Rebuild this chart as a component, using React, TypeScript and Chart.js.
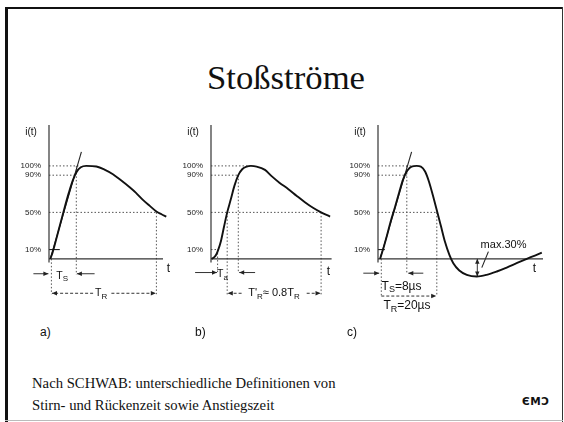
import React, { useEffect, useRef } from 'react';
import { Chart, registerables } from 'chart.js';
Chart.register(...registerables);

// ---------- shared ----------
const LEVELS = [10, 50, 90, 100];
const Y_MIN = -55;
const Y_MAX = 144;

// ---------- panel a ----------
const A_T = [0.44, 1.2, 2.4, 3.8, 5.2, 6.6, 8, 9.2, 10.6, 12.4, 15.8, 18.5, 21.3, 24, 26.9, 29, 31.3, 33.6, 35.8, 37.5, 39.1];
const A_I = [0, 7, 21, 38, 55, 71, 85, 93.5, 98.5, 100, 99.3, 96, 91, 84.5, 77, 71, 63.5, 57, 51, 48, 45.5];
const A_TAN_T = [0.44, 10.8];
const A_TAN_I = [0, 115];
const A_DOTTED = [[0, 100, 10.2, 100], [0, 90, 8.6, 90], [0, 50, 36.3, 50], [9.1, 100, 9.1, -17], [35.8, 50, 35.8, -38], [0.8, 0, 0.8, -38]];
const A_SOLID = [[0, 10, 3.6, 10]];
const A_ARROWS = [[-5.2, -16, -0.2, -16], [15.2, -16, 9.3, -16]];
const A_DASH_ARROWS = [[14.7, -37, 1.0, -37], [20.8, -37, 35.6, -37]];

// ---------- panel b ----------
const B_T = [0.2, 1.1, 1.8, 2.4, 3.3, 4.3, 5.4, 6.6, 7.8, 9.1, 10.4, 11.9, 13.3, 15.2, 18, 20.2, 22.8, 25.8, 28.5, 31.3, 34, 36.7, 39.7];
const B_I = [0, 1.8, 5, 9.7, 19, 34, 50, 64, 78.5, 90, 96.4, 99.3, 100, 99.3, 95.7, 89, 82, 75, 68, 61, 55, 50, 45.5];
const B_DOTTED = [[0, 100, 13, 100], [0, 90, 9.1, 90], [0, 50, 36.9, 50], [0, 10, 2.4, 10], [2.2, 10, 2.2, -15], [5.4, 50, 5.4, -39], [9.1, 90, 9.1, -15], [36.7, 50, 36.7, -39]];
const B_ARROWS = [[-5.3, -14.7, 2.0, -14.7], [14.7, -14.7, 9.4, -14.7]];
const B_DASH_ARROWS = [[10.2, -37, 5.6, -37], [31.9, -37, 36.5, -37]];

// ---------- panel c ----------
const C_T = [0.7, 1.1, 1.8, 2.9, 4.2, 5.7, 7.1, 8.4, 9.8, 11.2, 12.9, 14.3, 15.7, 17, 18.4, 19.8, 21, 22.3, 23.8, 25.1, 27.1, 29.6, 32.9, 36.2, 39.6, 42.9, 46.2, 49.6, 52.3, 54.6];
const C_I = [0, 4.3, 11.5, 24, 40, 56, 72, 85.7, 95, 99.3, 100, 99.3, 94, 83, 67, 50, 35, 18.6, 4.3, -4.7, -12.5, -17.2, -19, -17.2, -13.6, -9.3, -4.7, 0, 3.6, 6.8];
const C_TAN_T = [0.7, 11.2];
const C_TAN_I = [0, 115];
const C_DOTTED = [[0, 100, 11.2, 100], [0, 90, 9.6, 90], [0, 50, 19.8, 50], [9.6, 100, 9.6, -15.4], [19.6, 50, 19.6, -40], [1.1, 0, 1.1, -40]];
const C_SOLID = [[0, 10, 2.3, 10], [34.6, -9.4, 36.8, 7.8]];
const C_ARROWS = [[-4.9, -15.4, 0.4, -15.4], [15.1, -15.4, 10.1, -15.4]];
const C_DASH_ARROWS = [[1.1, -40, 19.4, -40]];
const C_DOUBLE = [[33.1, 0, 33.1, -19]];

type Label = { t: number; i: number; text: string; size: number; align: 'left' | 'center' };
interface Panel {
  key: string;
  t: number[]; i: number[];
  tanT: number[]; tanI: number[];
  xMax: number; axisEnd: number;
  dotted: number[][]; solid: number[][]; arrows: number[][]; dashArrows: number[][]; doubles: number[][];
  labels: Label[];
  left: number; width: number;
}

const PANELS: Panel[] = [
  {
    key: 'a', t: A_T, i: A_I, tanT: A_TAN_T, tanI: A_TAN_I, xMax: 42, axisEnd: 38,
    dotted: A_DOTTED, solid: A_SOLID, arrows: A_ARROWS, dashArrows: A_DASH_ARROWS, doubles: [],
    labels: [
      { t: 4.4, i: -18.5, text: 'T_S', size: 10.5, align: 'center' },
      { t: 17.4, i: -37, text: 'T_R', size: 10.5, align: 'center' },
      { t: 39.8, i: -10.2, text: 't', size: 12, align: 'center' },
    ],
    left: 10, width: 175,
  },
  {
    key: 'b', t: B_T, i: B_I, tanT: [], tanI: [], xMax: 42, axisEnd: 40.2,
    dotted: B_DOTTED, solid: [], arrows: B_ARROWS, dashArrows: B_DASH_ARROWS, doubles: [],
    labels: [
      { t: 3.8, i: -16.5, text: 'T_a', size: 10.5, align: 'center' },
      { t: 21, i: -37, text: "T'_R≈ 0.8T_R", size: 11, align: 'center' },
      { t: 39.1, i: -14, text: 't', size: 12, align: 'center' },
    ],
    left: 172, width: 173,
  },
  {
    key: 'c', t: C_T, i: C_I, tanT: C_TAN_T, tanI: C_TAN_I, xMax: 57, axisEnd: 55,
    dotted: C_DOTTED, solid: C_SOLID, arrows: C_ARROWS, dashArrows: C_DASH_ARROWS, doubles: C_DOUBLE,
    labels: [
      { t: 1.2, i: -29.5, text: 'T_S=8µs', size: 12, align: 'left' },
      { t: 1.8, i: -50.2, text: 'T_R=20µs', size: 12, align: 'left' },
      { t: 34.2, i: 15, text: 'max.30%', size: 11, align: 'left' },
      { t: 52.1, i: -11, text: 't', size: 12, align: 'center' },
    ],
    left: 339, width: 219,
  },
];

const SANS = '"Liberation Sans", Arial, Helvetica, sans-serif';

function line(ctx: CanvasRenderingContext2D, x1: number, y1: number, x2: number, y2: number) {
  ctx.beginPath();
  ctx.moveTo(x1, y1);
  ctx.lineTo(x2, y2);
  ctx.stroke();
}

function head(ctx: CanvasRenderingContext2D, x1: number, y1: number, x2: number, y2: number) {
  const a = Math.atan2(y2 - y1, x2 - x1);
  const L = 5, W = 2.2;
  const c = Math.cos(a), s = Math.sin(a);
  ctx.beginPath();
  ctx.moveTo(x2, y2);
  ctx.lineTo(x2 - L * c + W * s, y2 - L * s - W * c);
  ctx.lineTo(x2 - L * c - W * s, y2 - L * s + W * c);
  ctx.closePath();
  ctx.fill();
}

function drawRich(ctx: CanvasRenderingContext2D, s: string, x: number, y: number, size: number, align: string) {
  const parts: [string, boolean][] = [];
  const re = /_\{([^}]*)\}|_(.)|([^_]+)/g;
  let m: RegExpExecArray | null;
  while ((m = re.exec(s))) {
    if (m[3] !== undefined) parts.push([m[3], false]);
    else parts.push([m[1] !== undefined ? m[1] : m[2], true]);
  }
  const fN = `${size}px ${SANS}`;
  const fS = `${Math.round(size * 0.72)}px ${SANS}`;
  let w = 0;
  parts.forEach(([t, sub]) => { ctx.font = sub ? fS : fN; w += ctx.measureText(t).width; });
  let cx = align === 'center' ? x - w / 2 : x;
  ctx.textAlign = 'left';
  ctx.textBaseline = 'middle';
  parts.forEach(([t, sub]) => {
    ctx.font = sub ? fS : fN;
    ctx.fillText(t, cx, sub ? y + size * 0.3 : y);
    cx += ctx.measureText(t).width;
  });
}

function makePlugin(p: Panel) {
  return {
    id: 'guides_' + p.key,
    beforeDatasetsDraw(chart: any) {
      const ctx: CanvasRenderingContext2D = chart.ctx;
      const xs = chart.scales.x, ys = chart.scales.y;
      const X = (t: number) => xs.getPixelForValue(t);
      const Y = (v: number) => ys.getPixelForValue(v);
      ctx.save();
      ctx.strokeStyle = '#555';
      ctx.lineWidth = 1;
      ctx.setLineDash([1.5, 2]);
      p.dotted.forEach(s => line(ctx, X(s[0]), Y(s[1]), X(s[2]), Y(s[3])));
      ctx.setLineDash([]);
      ctx.strokeStyle = '#222';
      ctx.lineWidth = 1.1;
      p.solid.forEach(s => line(ctx, X(s[0]), Y(s[1]), X(s[2]), Y(s[3])));
      // axes
      ctx.strokeStyle = '#333';
      ctx.lineWidth = 1.2;
      line(ctx, X(0), Y(Y_MAX), X(0), Y(-4));
      line(ctx, X(0), Y(0), X(p.axisEnd), Y(0));
      // arrows
      ctx.fillStyle = '#222';
      ctx.strokeStyle = '#333';
      ctx.lineWidth = 1;
      p.arrows.forEach(s => {
        const x1 = X(s[0]), y1 = Y(s[1]), x2 = X(s[2]), y2 = Y(s[3]);
        line(ctx, x1, y1, x2, y2);
        head(ctx, x1, y1, x2, y2);
      });
      p.dashArrows.forEach(s => {
        const x1 = X(s[0]), y1 = Y(s[1]), x2 = X(s[2]), y2 = Y(s[3]);
        ctx.setLineDash([3, 2]);
        line(ctx, x1, y1, x2, y2);
        ctx.setLineDash([]);
        head(ctx, x1, y1, x2, y2);
      });
      p.doubles.forEach(s => {
        const x1 = X(s[0]), y1 = Y(s[1]), x2 = X(s[2]), y2 = Y(s[3]);
        line(ctx, x1, y1, x2, y2);
        head(ctx, x1, y1, x2, y2);
        head(ctx, x2, y2, x1, y1);
      });
      // labels
      ctx.fillStyle = '#111';
      p.labels.forEach(l => drawRich(ctx, l.text, X(l.t), Y(l.i), l.size, l.align));
      drawRich(ctx, 'i(t)', X(0) - 18, Y(Y_MAX) + 7, 10, 'center');
      ctx.restore();
    },
  };
}

const TOP = 110;
const HEIGHT = 215;

function PanelChart({ p }: { p: Panel }) {
  const ref = useRef<HTMLCanvasElement | null>(null);
  useEffect(() => {
    if (!ref.current) return;
    const datasets: any[] = [
      {
        data: p.t.map((t, k) => ({ x: t, y: p.i[k] })),
        borderColor: '#111',
        borderWidth: 1.9,
        pointRadius: 0,
        cubicInterpolationMode: 'monotone',
        fill: false,
      },
    ];
    if (p.tanT.length) {
      datasets.push({
        data: p.tanT.map((t, k) => ({ x: t, y: p.tanI[k] })),
        borderColor: '#222',
        borderWidth: 1.1,
        pointRadius: 0,
        tension: 0,
        fill: false,
      });
    }
    const chart = new Chart(ref.current, {
      type: 'line',
      data: { datasets },
      options: {
        animation: false,
        responsive: false,
        events: [],
        layout: { padding: { left: 9, right: p.width - 39 - 3 * p.xMax, top: 15, bottom: 15 } },
        plugins: { legend: { display: false }, tooltip: { enabled: false } },
        scales: {
          x: { type: 'linear', display: false, min: 0, max: p.xMax },
          y: {
            type: 'linear',
            min: Y_MIN,
            max: Y_MAX,
            afterFit: (s: any) => { s.width = 30; },
            afterBuildTicks: (s: any) => { s.ticks = LEVELS.map(v => ({ value: v })); },
            grid: { display: false, drawTicks: false },
            border: { display: false },
            ticks: {
              autoSkip: false,
              padding: 8,
              color: '#222',
              font: { family: SANS, size: 8 },
              callback: (v: any) => v + '%',
            },
          },
        },
      } as any,
      plugins: [makePlugin(p)],
    });
    return () => chart.destroy();
  }, [p]);
  return (
    <canvas
      ref={ref}
      width={p.width}
      height={HEIGHT}
      style={{ position: 'absolute', left: p.left, top: TOP, width: p.width, height: HEIGHT }}
    />
  );
}

export default function App() {
  const serif = '"Liberation Serif", "Times New Roman", serif';
  return (
    <div style={{ position: 'fixed', left: 0, top: 0, width: 564, height: 422, background: '#fff', overflow: 'hidden' }}>
      {/* frame */}
      <div style={{ position: 'absolute', left: 5, top: 7, width: 2.5, height: 415, background: '#111' }} />
      <div style={{ position: 'absolute', left: 5, top: 7, width: 558, height: 2.2, background: '#111' }} />
      <div style={{ position: 'absolute', left: 561.5, top: 7, width: 1.5, height: 415, background: '#333' }} />
      <div style={{ position: 'absolute', left: 5, top: 420, width: 558, height: 1, background: '#bbb' }} />
      {/* title */}
      <div style={{ position: 'absolute', left: 0, top: 61, width: 572, textAlign: 'center', fontFamily: serif, fontSize: 34.7, lineHeight: '34.7px', color: '#111' }}>
        Stoßströme
      </div>
      {PANELS.map(p => <PanelChart key={p.key} p={p} />)}
      {/* panel captions */}
      {[['a)', 40], ['b)', 195], ['c)', 347]].map(([s, x]) => (
        <div key={s as string} style={{ position: 'absolute', left: x as number, top: 326, fontFamily: SANS, fontSize: 12, lineHeight: '12px', color: '#111' }}>{s}</div>
      ))}
      {/* footer */}
      <div style={{ position: 'absolute', left: 32, top: 372, fontFamily: serif, fontSize: 14.7, lineHeight: '22px', color: '#111', whiteSpace: 'nowrap' }}>
        Nach SCHWAB: unterschiedliche Definitionen von<br />Stirn- und Rückenzeit sowie Anstiegszeit
      </div>
      <div style={{ position: 'absolute', left: 522, top: 395, fontFamily: '"DejaVu Sans", sans-serif', fontWeight: 'bold', fontSize: 10.5, lineHeight: '12px', color: '#111', letterSpacing: 0.5 }}>
        ЄMƆ
      </div>
    </div>
  );
}
